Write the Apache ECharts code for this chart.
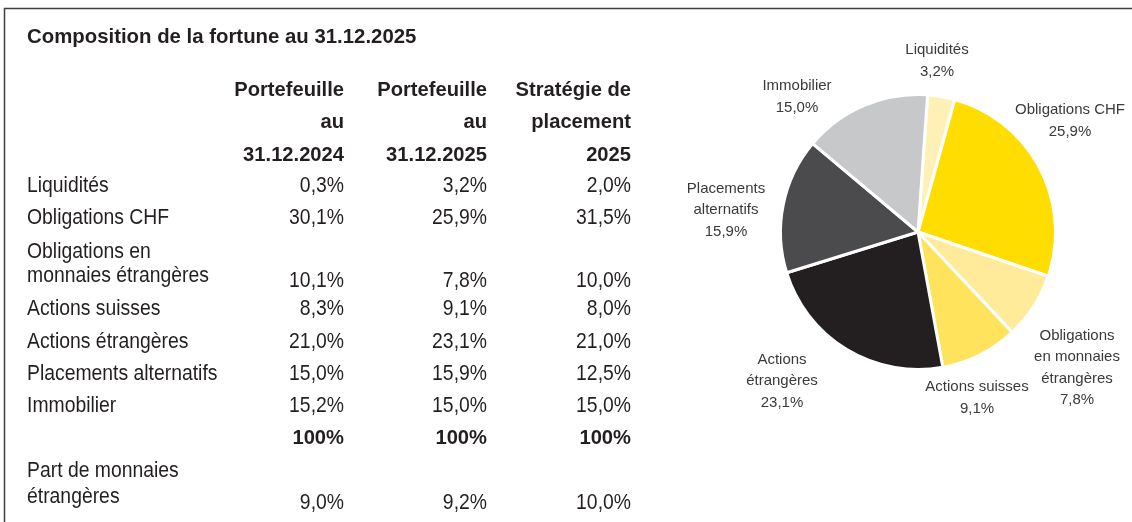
<!DOCTYPE html>
<html>
<head>
<meta charset="utf-8">
<script src="https://cdn.jsdelivr.net/npm/echarts@6/dist/echarts.min.js"></script>
<style>
  html, body { margin: 0; padding: 0; background: #fff; }
  #chart { width: 1132px; height: 522px; }
</style>
</head>
<body>
<div id="chart"></div>
<script>
const titleText = "Composition de la fortune au 31.12.2025";

const categories = [
  "Liquidités",
  "Obligations CHF",
  "Obligations en\nmonnaies étrangères",
  "Actions suisses",
  "Actions étrangères",
  "Placements alternatifs",
  "Immobilier"
];
const pieNames = [
  "Liquidités",
  "Obligations CHF",
  "Obligations\nen monnaies\nétrangères",
  "Actions suisses",
  "Actions\nétrangères",
  "Placements\nalternatifs",
  "Immobilier"
];
const columnHeaders = [
  ["Portefeuille", "au", "31.12.2024"],
  ["Portefeuille", "au", "31.12.2025"],
  ["Stratégie de", "placement", "2025"]
];
const portfolio2024 = [0.3, 30.1, 10.1, 8.3, 21.0, 15.0, 15.2];
const portfolio2025 = [3.2, 25.9, 7.8, 9.1, 23.1, 15.9, 15.0];
const strategy2025 = [2.0, 31.5, 10.0, 8.0, 21.0, 12.5, 15.0];
const totals = ["100%", "100%", "100%"];
const foreignLabel = "Part de monnaies\nétrangères";
const foreignShare = [9.0, 9.2, 10.0];

const sliceColors = ["#fff1b6", "#ffdd00", "#ffeb9a", "#ffe35c", "#231f20", "#4b4b4d", "#c7c8ca"];

// layout of the table (pixels)
const FONT = "'Liberation Sans', Arial, sans-serif";
const TEXT_COLOR = "#231f20";
const LABEL_X = 27;
const COL_RIGHT = [344, 487, 631];
const HEADER_Y = [90, 122, 155];
const ROW_VALUE_Y = [186, 218, 281, 309, 342, 374, 406];
const ROW_LABEL_Y = [[186], [218], [252, 276], [309], [342], [374], [406]];
const TOTAL_Y = 438;
const FOREIGN_LABEL_Y = [471, 497];
const FOREIGN_VALUE_Y = 503;
// pie label centres
const PIE_LABEL_POS = [[937, 61], [1070, 121], [1077, 368], [977, 398], [782, 381], [726, 210], [797, 97]];

function formatPct(value) {
  return value.toFixed(1).replace(".", ",") + "%";
}

// condensed look: regular Liberation Sans squeezed horizontally
function textEl(text, x, y, align, bold) {
  return {
    type: "text",
    silent: true,
    x: x,
    y: y,
    scaleX: bold ? 0.96 : 0.88,
    style: {
      text: text,
      x: 0,
      y: 0,
      align: align,
      verticalAlign: "middle",
      fill: TEXT_COLOR,
      font: bold ? "bold 21px " + FONT : "22px " + FONT
    }
  };
}

function buildTable() {
  const els = [];
  els.push({
    type: "polyline",
    silent: true,
    shape: { points: [[4.5, 522], [4.5, 8.5], [1132, 8.5]] },
    style: { stroke: "#3f3f3f", lineWidth: 1.5, fill: null }
  });
  const title = textEl(titleText, LABEL_X, 37, "left", true);
  title.scaleX = 0.97;
  title.style.font = "bold 21px " + FONT;
  els.push(title);

  columnHeaders.forEach((lines, c) => {
    lines.forEach((line, i) => {
      els.push(textEl(line, COL_RIGHT[c], HEADER_Y[i], "right", true));
    });
  });

  const columns = [portfolio2024, portfolio2025, strategy2025];
  categories.forEach((name, r) => {
    name.split("\n").forEach((line, i) => {
      els.push(textEl(line, LABEL_X, ROW_LABEL_Y[r][i], "left", false));
    });
    columns.forEach((col, c) => {
      els.push(textEl(formatPct(col[r]), COL_RIGHT[c], ROW_VALUE_Y[r], "right", false));
    });
  });

  totals.forEach((t, c) => {
    els.push(textEl(t, COL_RIGHT[c], TOTAL_Y, "right", true));
  });

  foreignLabel.split("\n").forEach((line, i) => {
    els.push(textEl(line, LABEL_X, FOREIGN_LABEL_Y[i], "left", false));
  });
  foreignShare.forEach((v, c) => {
    els.push(textEl(formatPct(v), COL_RIGHT[c], FOREIGN_VALUE_Y, "right", false));
  });
  return els;
}

const chart = echarts.init(document.getElementById("chart"), null, { renderer: "canvas" });

chart.setOption({
  backgroundColor: "#ffffff",
  animation: false,
  graphic: buildTable(),
  series: [
    {
      type: "pie",
      center: [918, 232],
      radius: 137.5,
      startAngle: 86,
      clockwise: true,
      avoidLabelOverlap: false,
      itemStyle: {
        borderColor: "#ffffff",
        borderWidth: 3
      },
      label: {
        show: true,
        position: "outside",
        formatter: (p) => pieNames[p.dataIndex] + "\n" + formatPct(p.value),
        fontFamily: FONT,
        fontSize: 15,
        lineHeight: 21.5,
        color: "#3a3a3a",
        align: "center"
      },
      labelLine: { show: false },
      labelLayout: (params) => ({
        x: PIE_LABEL_POS[params.dataIndex][0],
        y: PIE_LABEL_POS[params.dataIndex][1],
        align: "center",
        verticalAlign: "middle"
      }),
      emphasis: { disabled: true },
      data: portfolio2025.map((v, i) => ({
        name: categories[i],
        value: v,
        itemStyle: { color: sliceColors[i] }
      }))
    }
  ]
});
</script>
</body>
</html>
